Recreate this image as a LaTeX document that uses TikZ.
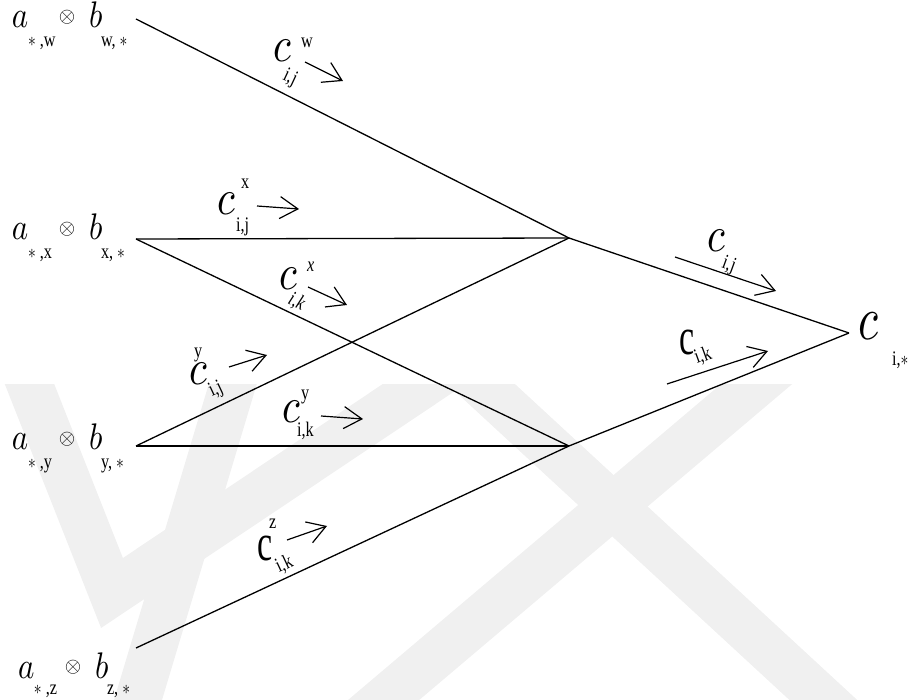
\documentclass[tikz,border=0pt]{standalone}
\usepackage{fontspec}
\setmainfont{Liberation Serif}
\usetikzlibrary{arrows.meta}
\newcommand{\biglet}[1]{\scalebox{3.1}[3.7]{$#1$}}
\newcommand{\bigcc}{\scalebox{4.1}[5]{$c$}}
\newcommand{\resc}{\scalebox{4.6}[6.2]{$c$}}
\newcommand{\upc}{\scalebox{0.85}[1.3]{\fontsize{40}{40}\selectfont c}}
\newcommand{\smt}[1]{\scalebox{0.9}[1.15]{\fontsize{18}{18}\selectfont #1}}
\newcommand{\otm}{\scalebox{2.1}{$\otimes$}}
\tikzset{
  x=1pt, y=-1pt,
  lbl/.style={inner sep=0pt, outer sep=0pt},
  wire/.style={line width=1.3pt, black},
  flow/.style={line width=1.2pt, black, -{Straight Barb[length=18pt, width=22pt, line width=1.2pt]}},
  wm/.style={line width=46pt, black!6, line cap=butt, line join=miter},
}
\begin{document}
\begin{tikzpicture}
\useasboundingbox (0,0) rectangle (922,700);
% watermark
\begin{scope}
\clip (0,385) rectangle (922,700);
\draw[wm] (20,360) -- (112,593) -- (460,360);
\draw[wm] (240,360) -- (132,720);
\draw[wm] (785,360) -- (360,720);
\draw[wm] (455,360) -- (845,720);
\end{scope}
% row labels
\foreach \r/\bx/\by/\s/\d in {w/12/28/w/19, x/12/240/x/19, y/12/450/y/19, z/18/678/z/16}{
  \node[lbl, anchor=base west] (a\r) at (\bx,\by) {\biglet{a}};
  \node[lbl, anchor=base west] (as\r) at (\bx+16,\by+\d) {\smt{$*$\ ,\s}};
  \node[lbl] (o\r) at (\bx+55,\by-11) {\otm};
  \node[lbl, anchor=base west] (b\r) at (\bx+77,\by) {\biglet{b}};
  \node[lbl, anchor=base west] (bs\r) at (\bx+89,\by+\d) {\smt{\s,\ $*$}};
}
% junction coordinates
\coordinate (sw) at (136,19);
\coordinate (sx) at (136,239);
\coordinate (sy) at (136,446);
\coordinate (sz) at (136,648);
\coordinate (J1) at (569,238);
\coordinate (J2) at (569,446);
\coordinate (C) at (849,333);
\draw[wire] (sw) -- (J1);
\draw[wire] (sx) -- (J1);
\draw[wire] (sx) -- (J2);
\draw[wire] (sy) -- (J1);
\draw[wire] (sy) -- (J2);
\draw[wire] (sz) -- (J2);
\draw[wire] (J1) -- (C);
\draw[wire] (J2) -- (C);
% result
\node[lbl, anchor=base west] (cres) at (858,340) {\resc};
\node[lbl, anchor=base west] (cress) at (892,366) {\smt{i,$*$}};
% c^w_{i,j}
\node[lbl, anchor=base west] (cw) at (273,62) {\bigcc};
\node[lbl, anchor=base west] (cwp) at (301,48) {\smt{w}};
\node[lbl, anchor=base west, rotate=-25] (cwb) at (282,80) {\smt{i,j}};
\coordinate (cwa1) at (305,62); \coordinate (cwa2) at (343,81);
\draw[flow] (cwa1) -- (cwa2);
% c^x_{i,j}
\node[lbl, anchor=base west] (cx) at (217,215) {\bigcc};
\node[lbl, anchor=base west] (cxp) at (241,189) {\smt{x}};
\node[lbl, anchor=base west] (cxb) at (236,232) {\smt{i,j}};
\coordinate (cxa1) at (257,206); \coordinate (cxa2) at (299,209);
\draw[flow] (cxa1) -- (cxa2);
% c^x_{i,k}
\node[lbl, anchor=base west] (cxk) at (279,290) {\bigcc};
\node[lbl, anchor=base west] (cxkp) at (307,272) {\smt{\itshape x}};
\node[lbl, anchor=base west, rotate=-25] (cxkb) at (287,304) {\smt{\itshape i,k}};
\coordinate (cxka1) at (308,287); \coordinate (cxka2) at (347,305);
\draw[flow] (cxka1) -- (cxka2);
% c^y_{i,j}
\node[lbl, anchor=base west] (cyj) at (189,385) {\bigcc};
\node[lbl, anchor=base west] (cyjp) at (194,358) {\smt{y}};
\node[lbl, anchor=base west, rotate=25] (cyjb) at (212,397) {\smt{i,j}};
\coordinate (cyja1) at (229,367); \coordinate (cyja2) at (267,355);
\draw[flow] (cyja1) -- (cyja2);
% c^y_{i,k}
\node[lbl, anchor=base west] (cyk) at (282,423) {\bigcc};
\node[lbl, anchor=base west] (cykp) at (301,400) {\smt{y}};
\node[lbl, anchor=base west] (cykb) at (297,437) {\smt{i,k}};
\coordinate (cyka1) at (321,416); \coordinate (cyka2) at (363,419);
\draw[flow] (cyka1) -- (cyka2);
% c^z_{i,k}
\node[lbl, anchor=base west] (czk) at (257,561) {\upc};
\node[lbl, anchor=base west] (czkp) at (269,529) {\smt{z}};
\node[lbl, anchor=base west, rotate=25] (czkb) at (279,573) {\smt{i,k}};
\coordinate (czka1) at (287,540); \coordinate (czka2) at (327,526);
\draw[flow] (czka1) -- (czka2);
% c_{i,j}
\node[lbl, anchor=base west] (cij) at (707,252) {\bigcc};
\node[lbl, anchor=base west, rotate=-20] (cijb) at (721,268) {\smt{i,j}};
\coordinate (cija1) at (675,257); \coordinate (cija2) at (776,291);
\draw[flow] (cija1) -- (cija2);
% c_{i,k}
\node[lbl, anchor=base west] (cik) at (679,355) {\upc};
\node[lbl, anchor=base west, rotate=20] (cikb) at (697,364) {\smt{i,k}};
\coordinate (cika1) at (667,384); \coordinate (cika2) at (768,351);
\draw[flow] (cika1) -- (cika2);
\end{tikzpicture}
\end{document}
